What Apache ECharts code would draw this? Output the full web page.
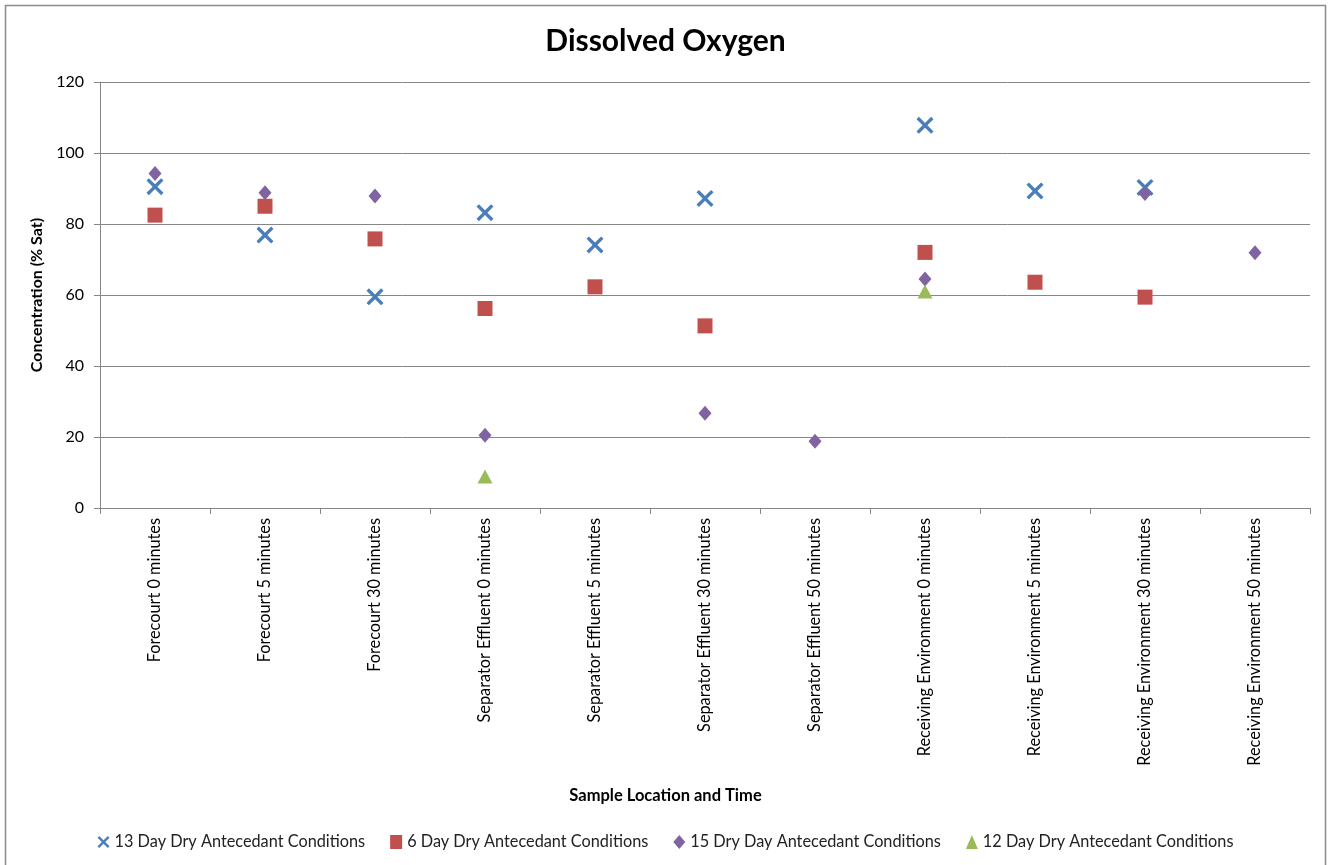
<!DOCTYPE html>
<html>
<head>
<meta charset="utf-8">
<script src="https://cdn.jsdelivr.net/npm/echarts@6/dist/echarts.min.js"></script>
<style>
html,body{margin:0;padding:0;background:#fff;}
#main{width:1331px;height:865px;}
</style>
</head>
<body>
<div id="main"></div>
<script>
const categories = [
  "Forecourt 0 minutes","Forecourt 5 minutes","Forecourt 30 minutes",
  "Separator Effluent 0 minutes","Separator Effluent 5 minutes","Separator Effluent 30 minutes","Separator Effluent 50 minutes",
  "Receiving Environment 0 minutes","Receiving Environment 5 minutes","Receiving Environment 30 minutes","Receiving Environment 50 minutes"
];
const seriesNames = [
  "13 Day Dry Antecedant Conditions",
  "6 Day Dry Antecedant Conditions",
  "15 Dry Day Antecedant Conditions",
  "12 Day Dry Antecedant Conditions"
];
const day13 = [90.5, 76.9, 59.5, 83.2, 74.1, 87.2, null, 107.8, 89.3, 90.3, null];
const day6  = [82.5, 85.0, 75.8, 56.2, 62.3, 51.3, null, 72.0, 63.6, 59.4, null];
const day15 = [94.2, 88.8, 87.9, 20.5, null, 26.7, 18.8, 64.5, null, 88.6, 71.9];
const day12 = [null, null, null, 8.9, null, null, null, 61.0, null, null, null];
const yTicks = [0, 20, 40, 60, 80, 100, 120];

const colors = ['#4A7EBB', '#C0504D', '#8064A2', '#9BBB59'];
const xSymbol = 'path://M1.4,0 L5,3.6 L8.6,0 L10,1.4 L6.4,5 L10,8.6 L8.6,10 L5,6.4 L1.4,10 L0,8.6 L3.6,5 L0,1.4 Z';
const symbols = [xSymbol, 'rect', 'diamond', 'triangle'];
const sizes = [[17,17],[15,15],[13,15],[15,14]];
const datasets = [day13, day6, day15, day12];

const FONT = 'Lato';
const chart = echarts.init(document.getElementById('main'));
chart.setOption({
  backgroundColor: '#fff',
  animation: false,
  textStyle: {fontFamily: FONT},
  title: [
    {text: 'Dissolved Oxygen', left: 'center', top: 21,
     textStyle: {fontFamily: FONT, fontWeight: 'bold', fontSize: 30, color: '#000'}},
    {text: 'Sample Location and Time', left: 'center', top: 782,
     textStyle: {fontFamily: FONT, fontWeight: 'bold', fontSize: 16.5, color: '#000'}}
  ],
  graphic: [{type: 'rect', shape: {x: 5.5, y: 5.5, width: 1320, height: 880},
    style: {fill: 'none', stroke: '#8c8c8c', lineWidth: 1.5}, silent: true}],
  legend: {
    bottom: 10, left: 'center', itemGap: 25, itemWidth: 12, itemHeight: 14,
    textStyle: {fontFamily: FONT, fontSize: 16.3, color: '#222'},
    data: seriesNames.map((n, i) => ({name: n, icon: symbols[i]}))
  },
  grid: {left: 100, right: 21, top: 82, bottom: 357, containLabel: false},
  xAxis: {
    type: 'category', data: categories, boundaryGap: true,
    axisLine: {lineStyle: {color: '#868686', width: 1}},
    axisTick: {show: true, length: 6, inside: false, lineStyle: {color: '#868686'}},
    axisLabel: {rotate: 90, fontSize: 16.3, color: '#000', fontFamily: FONT, margin: 10, interval: 0},
    splitLine: {show: false}
  },
  yAxis: {
    type: 'value', min: 0, max: 120, interval: 20,
    name: 'Concentration (% Sat)', nameLocation: 'middle', nameRotate: 90, nameGap: 50,
    nameTextStyle: {fontFamily: FONT, fontWeight: 'bold', fontSize: 16, color: '#000'},
    axisLine: {show: true, lineStyle: {color: '#868686'}},
    axisTick: {show: true, length: 6, lineStyle: {color: '#868686'}},
    axisLabel: {fontSize: 16, color: '#000', fontFamily: FONT, margin: 16,
      formatter: v => yTicks.includes(v) ? String(v) : ''},
    splitLine: {show: true, lineStyle: {color: '#868686', width: 1}}
  },
  series: datasets.map((d, i) => ({
    name: seriesNames[i], type: 'scatter', data: d,
    symbol: symbols[i], symbolSize: sizes[i],
    itemStyle: {color: colors[i], opacity: 1},
    z: [2, 3, 4, 5][i]
  }))
});
</script>
</body>
</html>
